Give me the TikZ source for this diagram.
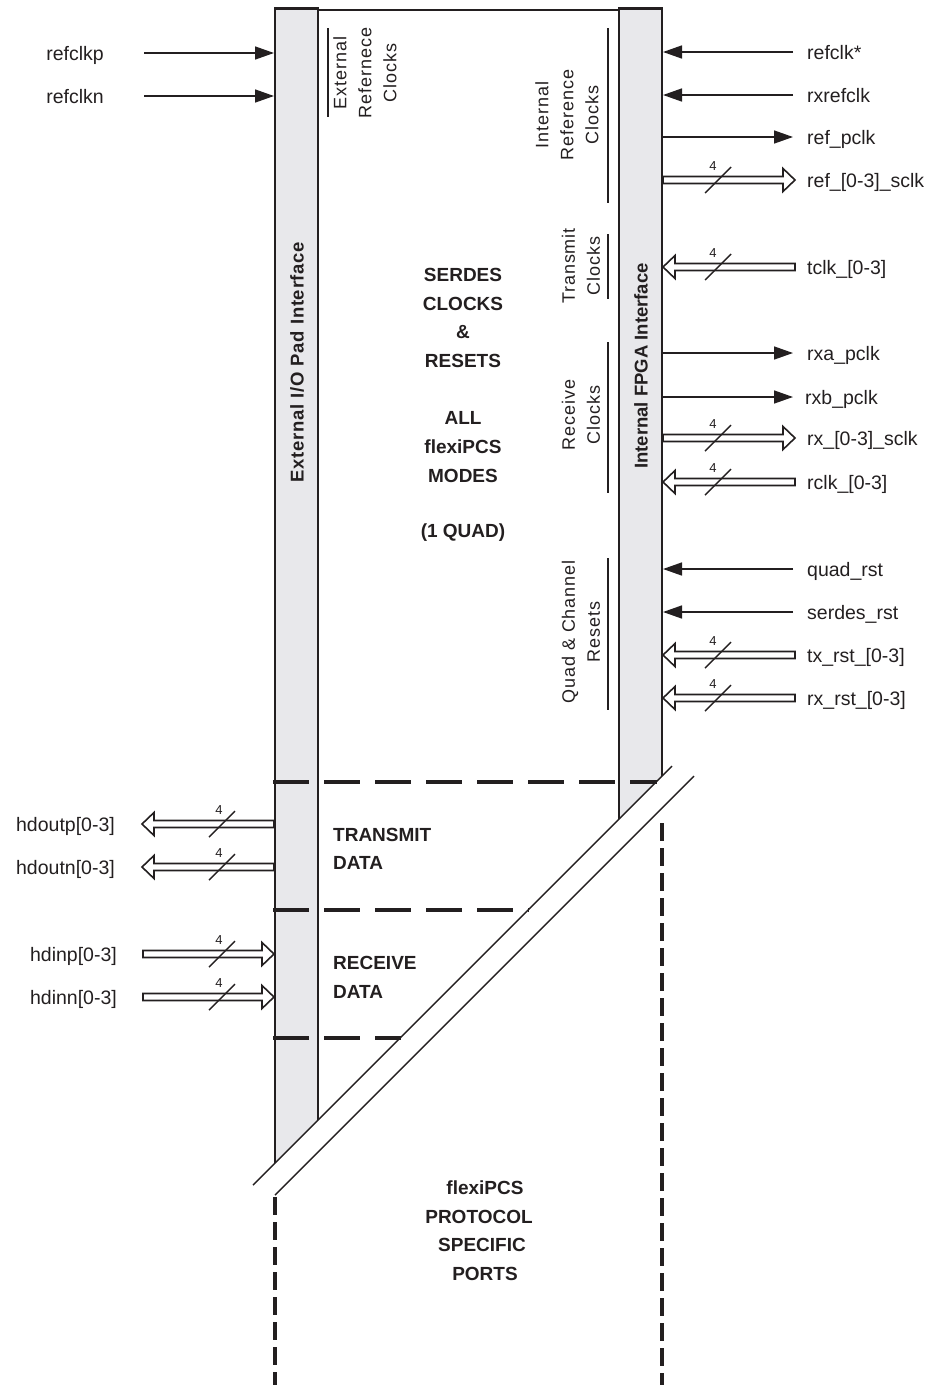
\documentclass[tikz,border=0pt]{standalone}
\usepackage{fontspec}
\setmainfont{Liberation Sans}
\usetikzlibrary{arrows.meta,calc}
\definecolor{barfill}{RGB}{232,232,235}
\definecolor{ink}{RGB}{35,31,32}
\newcommand\busarrow[2]{\draw[bus] let \p1=(#1), \p2=(#2), \n1={sign(\x2-\x1)} in
  (\x1,\y1+3.5pt) -- (\x2-\n1*12pt,\y1+3.5pt) -- (\x2-\n1*12pt,\y1+11.5pt) -- (\x2,\y1)
  -- (\x2-\n1*12pt,\y1-11.5pt) -- (\x2-\n1*12pt,\y1-3.5pt) -- (\x1,\y1-3.5pt) -- cycle;}
\newcommand\slashR[2]{\draw[slashl] (718,#1) ++(-13,13) -- ++(26,-26);
  \node[four] (#2) at (713,#1-14) {4};}
\newcommand\slashL[2]{\draw[slashl] (222,#1) ++(-13,13) -- ++(26,-26);
  \node[four] (#2) at (219,#1-14) {4};}
\begin{document}
\begin{tikzpicture}[x=1pt,y=-1pt,
  sig/.style={line width=1.5pt, draw=ink, -{Triangle[length=19pt,width=13pt]}},
  bus/.style={line width=1.6pt, draw=ink, fill=white, line join=miter},
  slashl/.style={line width=1.4pt, draw=ink},
  four/.style={font=\fontsize{13}{13}\selectfont, text=ink, inner sep=0pt},
  lbl/.style={font=\fontsize{19.5}{23}\selectfont, text=ink, inner sep=0pt},
  big/.style={font=\bfseries\fontsize{19}{28.7}\selectfont, text=ink, inner sep=0pt},
  brk/.style={rotate=90, align=center, font=\fontsize{18}{25}\selectfont\addfontfeature{LetterSpace=5}, text=ink, inner sep=0pt},
  barlbl/.style={rotate=90, font=\bfseries\fontsize{18.5}{20}\selectfont, text=ink, inner sep=0pt},
  dashH/.style={line width=4pt, draw=ink, dash pattern=on 36pt off 15pt},
  dashV/.style={line width=4pt, draw=ink, dash pattern=on 18pt off 7pt},
  edgeline/.style={line width=1.8pt, draw=ink},
  thinline/.style={line width=1.4pt, draw=ink}]
\useasboundingbox (0,0) rectangle (933,1385);
% bars
\fill[barfill] (275,8) -- (318,8) -- (318,1120) -- (275,1163) -- cycle;
\fill[barfill] (619,8) -- (662,8) -- (662,776) -- (619,819) -- cycle;
\draw[edgeline] (275,8) -- (275,1163);
\draw[edgeline] (318,8) -- (318,1120);
\draw[edgeline] (619,8) -- (619,819);
\draw[edgeline] (662,8) -- (662,776);
\draw[ink,line width=3pt] (274,8.5) -- (319,8.5);
\draw[ink,line width=3pt] (618,8.5) -- (663,8.5);
\draw[thinline] (318,10) -- (619,10);
% diagonals
\draw[thinline] (672,766) -- (253,1185);
\draw[thinline] (694,776) -- (275,1195);
% dashed
\draw[dashH] (273,782) -- (657,782);
\draw[dashH] (273,910) -- (529,910);
\draw[dashH] (273,1038) -- (401,1038);
\draw[dashV] (662,823) -- (662,1385);
\draw[dashV] (275,1197) -- (275,1385);
% brackets
\draw[thinline] (328,28) -- (328,117);
\draw[thinline] (608,28) -- (608,203);
\draw[thinline] (608,234) -- (608,299);
\draw[thinline] (608,342) -- (608,493);
\draw[thinline] (608,558) -- (608,710);
% rotated labels
\node[brk] (extref) at (365,73) {External\\Refernece\\Clocks};
\node[brk] (intref) at (567,115) {Internal\\Reference\\Clocks};
\node[brk] (txclk) at (581,266) {Transmit\\Clocks};
\node[brk] (rxclk) at (581,415) {Receive\\Clocks};
\node[brk] (rst) at (581,632) {Quad \& Channel\\Resets};
\node[barlbl,font=\bfseries\fontsize{18.5}{20}\selectfont\addfontfeature{LetterSpace=4}] (extio) at (297,362) {External I/O Pad Interface};
\node[barlbl] (intfpga) at (641,366) {Internal FPGA Interface};
% centre text
\node[big] (t1) at (463,275) {SERDES};
\node[big] (t2) at (463,304) {CLOCKS};
\node[big] (t3) at (463,332) {\&};
\node[big] (t4) at (463,361) {RESETS};
\node[big] (t5) at (463,418) {ALL};
\node[big] (t6) at (463,447) {flexiPCS};
\node[big] (t7) at (463,476) {MODES};
\node[big] (t8) at (463,533) {(1 QUAD)};
\node[big,anchor=west] (tx1) at (333,835) {TRANSMIT};
\node[big,anchor=west] (tx2) at (333,863) {DATA};
\node[big,anchor=west] (rx1) at (333,963) {RECEIVE};
\node[big,anchor=west] (rx2) at (333,992) {DATA};
\node[big] (p1) at (485,1188) {flexiPCS};
\node[big] (p2) at (479,1217) {PROTOCOL};
\node[big] (p3) at (482,1245) {SPECIFIC};
\node[big] (p4) at (485,1274) {PORTS};
% left signals
\node[lbl,anchor=base east] (refclkp) at (104,60) {refclkp};
\coordinate (refclkpA) at (144,53); \coordinate (refclkpB) at (274,53);
\draw[sig] (refclkpA) -- (refclkpB);
\node[lbl,anchor=base east] (refclkn) at (104,103) {refclkn};
\coordinate (refclknA) at (144,96); \coordinate (refclknB) at (274,96);
\draw[sig] (refclknA) -- (refclknB);
\node[lbl,anchor=base east] (hdoutp) at (115,831) {hdoutp[0-3]};
\coordinate (hdoutpA) at (274,824); \coordinate (hdoutpB) at (142,824);
\busarrow{hdoutpA}{hdoutpB}\slashL{824}{n4a}
\node[lbl,anchor=base east] (hdoutn) at (115,874) {hdoutn[0-3]};
\coordinate (hdoutnA) at (274,867); \coordinate (hdoutnB) at (142,867);
\busarrow{hdoutnA}{hdoutnB}\slashL{867}{n4b}
\node[lbl,anchor=base east] (hdinp) at (117,961) {hdinp[0-3]};
\coordinate (hdinpA) at (143,954); \coordinate (hdinpB) at (274,954);
\busarrow{hdinpA}{hdinpB}\slashL{954}{n4c}
\node[lbl,anchor=base east] (hdinn) at (117,1004) {hdinn[0-3]};
\coordinate (hdinnA) at (143,997); \coordinate (hdinnB) at (274,997);
\busarrow{hdinnA}{hdinnB}\slashL{997}{n4d}
% right signals
\node[lbl,anchor=base west] (refclks) at (807,59) {refclk*};
\coordinate (refclksA) at (793,52); \coordinate (refclksB) at (663,52);
\draw[sig] (refclksA) -- (refclksB);
\node[lbl,anchor=base west] (rxrefclk) at (807,102) {rxrefclk};
\coordinate (rxrefclkA) at (793,95); \coordinate (rxrefclkB) at (663,95);
\draw[sig] (rxrefclkA) -- (rxrefclkB);
\node[lbl,anchor=base west] (refpclk) at (807,144) {ref\_pclk};
\coordinate (refpclkA) at (663,137); \coordinate (refpclkB) at (793,137);
\draw[sig] (refpclkA) -- (refpclkB);
\node[lbl,anchor=base west] (refsclk) at (807,187) {ref\_[0-3]\_sclk};
\coordinate (refsclkA) at (663,180); \coordinate (refsclkB) at (795,180);
\busarrow{refsclkA}{refsclkB}\slashR{180}{m4a}
\node[lbl,anchor=base west] (tclk) at (807,274) {tclk\_[0-3]};
\coordinate (tclkA) at (795,267); \coordinate (tclkB) at (663,267);
\busarrow{tclkA}{tclkB}\slashR{267}{m4b}
\node[lbl,anchor=base west] (rxapclk) at (807,360) {rxa\_pclk};
\coordinate (rxapclkA) at (663,353); \coordinate (rxapclkB) at (793,353);
\draw[sig] (rxapclkA) -- (rxapclkB);
\node[lbl,anchor=base west] (rxbpclk) at (805,404) {rxb\_pclk};
\coordinate (rxbpclkA) at (663,397); \coordinate (rxbpclkB) at (793,397);
\draw[sig] (rxbpclkA) -- (rxbpclkB);
\node[lbl,anchor=base west] (rxsclk) at (807,445) {rx\_[0-3]\_sclk};
\coordinate (rxsclkA) at (663,438); \coordinate (rxsclkB) at (795,438);
\busarrow{rxsclkA}{rxsclkB}\slashR{438}{m4c}
\node[lbl,anchor=base west] (rclk) at (807,489) {rclk\_[0-3]};
\coordinate (rclkA) at (795,482); \coordinate (rclkB) at (663,482);
\busarrow{rclkA}{rclkB}\slashR{482}{m4d}
\node[lbl,anchor=base west] (quadrst) at (807,576) {quad\_rst};
\coordinate (quadrstA) at (793,569); \coordinate (quadrstB) at (663,569);
\draw[sig] (quadrstA) -- (quadrstB);
\node[lbl,anchor=base west] (serdesrst) at (807,619) {serdes\_rst};
\coordinate (serdesrstA) at (793,612); \coordinate (serdesrstB) at (663,612);
\draw[sig] (serdesrstA) -- (serdesrstB);
\node[lbl,anchor=base west] (txrst) at (807,662) {tx\_rst\_[0-3]};
\coordinate (txrstA) at (795,655); \coordinate (txrstB) at (663,655);
\busarrow{txrstA}{txrstB}\slashR{655}{m4e}
\node[lbl,anchor=base west] (rxrst) at (807,705) {rx\_rst\_[0-3]};
\coordinate (rxrstA) at (795,698); \coordinate (rxrstB) at (663,698);
\busarrow{rxrstA}{rxrstB}\slashR{698}{m4f}
\end{tikzpicture}
\end{document}
